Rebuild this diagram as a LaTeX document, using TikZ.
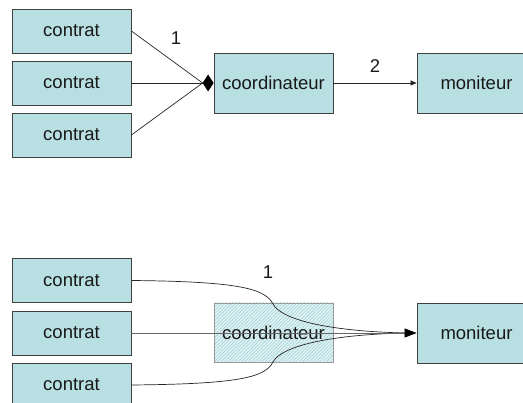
\documentclass[tikz,border=0pt]{standalone}
\usepackage{fontspec}
\setmainfont{Liberation Sans}
\usetikzlibrary{arrows.meta,patterns.meta}
\definecolor{boxfill}{RGB}{184,223,226}
\definecolor{hatchbg}{RGB}{226,243,245}
\definecolor{hatchln}{RGB}{160,210,216}
\begin{document}
\begin{tikzpicture}[x=1pt,y=-1pt,
  every node/.style={font=\fontsize{18.5}{22}\selectfont, text=black!90},
  boxA/.style={draw=black!75, line width=0.8pt, fill=boxfill, minimum width=119pt, minimum height=44pt, inner sep=0pt},
  boxB/.style={boxA, minimum height=60pt},
  hatchbox/.style={draw=black!40, line width=0.8pt, minimum width=119pt, minimum height=59pt, inner sep=0pt,
     preaction={fill=hatchbg}, pattern={Lines[angle=45,distance=2.4pt,line width=0.6pt]}, pattern color=hatchln},
  conn/.style={line width=0.7pt, draw=black!85},
  lbl/.style={inner sep=0pt}]
\useasboundingbox (0,0) rectangle (523,403);
\clip (0,0) rectangle (523,403);
% top diagram
\node[boxA] (c1) at (71.5,31) {contrat};
\node[boxA] (c2) at (71.5,83) {contrat};
\node[boxA] (c3) at (71.5,135) {contrat};
\node[boxB] (k1) at (273.5,83) {coordinateur};
\node[boxB] (m1) at (476.5,83) {moniteur};
\coordinate (d) at ([xshift=-11pt]k1.west);
\fill[black] (d) -- ++(5.5,-8.5) -- ++(5.5,8.5) -- ++(-5.5,8.5) -- cycle;
\draw[conn] (c1.east) -- (d);
\draw[conn] (c2.east) -- (d);
\draw[conn] (c3.east) -- (d);
\draw[conn, -{Triangle[length=6pt,width=5pt]}] (k1.east) -- (m1.west);
\node[lbl] (l1) at (176,38) {1};
\node[lbl] (l2) at (375,66) {2};
% bottom diagram
\node[boxA] (c4) at (71.5,280.5) {contrat};
\node[boxA] (c5) at (71.5,333) {contrat};
\node[boxA] (c6) at (71.5,385) {contrat};
\node[boxB] (m2) at (476.5,333) {moniteur};
\node[hatchbox] (k2) at (273.5,332.5) {};
\node[inner sep=0pt] (k2t) at (k2.center) {coordinateur};
\coordinate (s1) at (273,304);
\coordinate (s2) at (273,362);
\coordinate (tip) at ([xshift=-12pt]m2.west);
\draw[conn] (c4.east) .. controls +(110,1) and +(-8,-15) .. (s1) .. controls +(8,15) and +(-80,-2) .. (tip);
\draw[conn] (c6.east) .. controls +(110,-1) and +(-8,15) .. (s2) .. controls +(8,-15) and +(-80,2) .. (tip);
\draw[line width=0.7pt, draw=black!60, -{Triangle[length=12pt,width=9pt,color=black]}] (c5.east) -- (m2.west);
\node[lbl] (l3) at (268,272) {1};
\end{tikzpicture}
\end{document}
